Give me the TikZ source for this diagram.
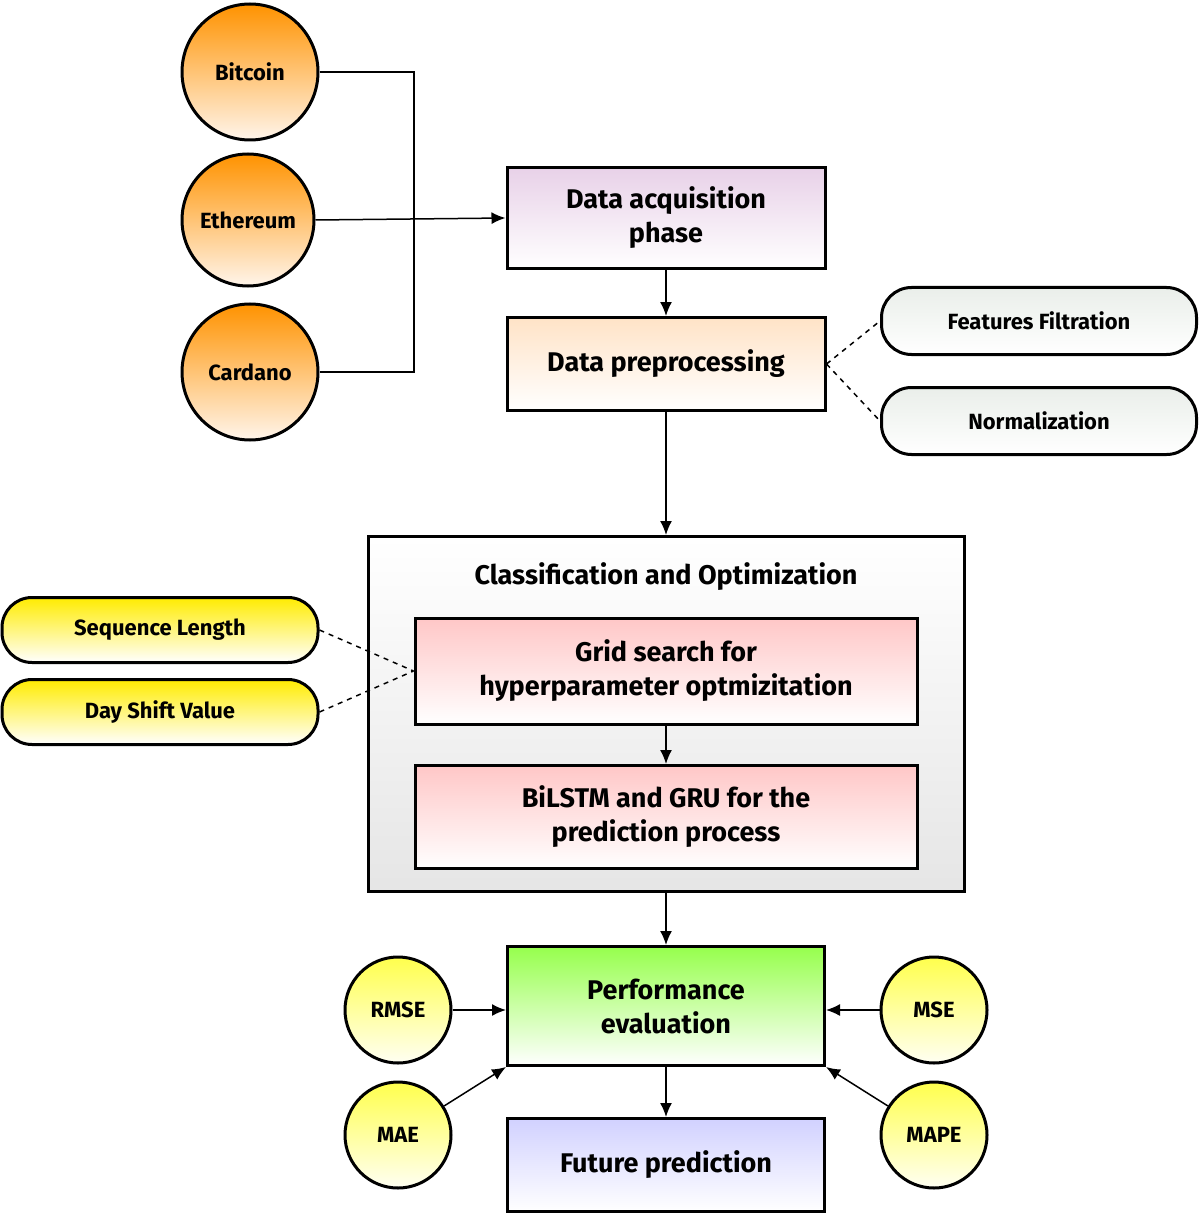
\documentclass[tikz,border=0pt]{standalone}
\usepackage{fontspec}
\setmainfont{Fira Sans}
\begin{document}
\begin{tikzpicture}[x=1pt,y=-1pt,
 base/.style={draw=black,line width=3pt,font=\fontsize{27}{34}\selectfont\bfseries,align=center,inner sep=0pt},
 box/.style={base,rectangle},
 pill/.style={base,rounded corners=30pt,font=\fontsize{22}{28}\selectfont\bfseries},
 coin/.style={base,circle,top color=orange!85!yellow,bottom color=orange!8,font=\fontsize{22}{28}\selectfont\bfseries},
 met/.style={base,circle,minimum size=106pt,top color=yellow!70,bottom color=yellow!5,font=\fontsize{22}{28}\selectfont\bfseries},
 arr/.style={line width=1.5pt,-{Latex[length=14pt,width=12pt]}},
 ln/.style={line width=1.5pt},
 dsh/.style={line width=1.5pt,dash pattern=on 5pt off 5pt}]
\useasboundingbox (0,0) rectangle (1200,1214);
\usetikzlibrary{arrows.meta}
\node[coin,minimum size=136pt] (btc) at (250,72) {Bitcoin};
\node[coin,minimum size=132pt] (eth) at (248,220) {Ethereum};
\node[coin,minimum size=136pt] (ada) at (250,372) {Cardano};
\node[box,minimum width=318pt,minimum height=101pt,top color=violet!18,bottom color=white] (acq) at (666,218) {Data acquisition\\phase};
\node[box,minimum width=318pt,minimum height=93pt,top color=orange!22,bottom color=white] (pre) at (666,364) {Data preprocessing};
\node[pill,minimum width=315pt,minimum height=67pt,top color=green!12!gray!15,bottom color=white] (ff) at (1039,321) {Features Filtration};
\node[pill,minimum width=315pt,minimum height=67pt,top color=green!12!gray!15,bottom color=white] (nz) at (1039,421) {Normalization};
\node[box,minimum width=596pt,minimum height=355pt,top color=white,bottom color=gray!20] (co) at (666,714) {};
\node[font=\fontsize{27}{34}\selectfont\bfseries] (cot) at (666,577) {Classification and Optimization};
\node[box,minimum width=502pt,minimum height=106pt,top color=red!22,bottom color=white] (gs) at (666,671) {Grid search for\\hyperparameter optmizitation};
\node[box,minimum width=502pt,minimum height=103pt,top color=red!22,bottom color=white] (bl) at (666,817) {BiLSTM and GRU for the\\prediction process};
\node[pill,minimum width=316pt,minimum height=65pt,top color=yellow!85!orange,bottom color=white] (sl) at (160,630) {Sequence Length};
\node[pill,minimum width=316pt,minimum height=65pt,top color=yellow!85!orange,bottom color=white] (ds) at (160,712) {Day Shift Value};
\node[box,minimum width=317pt,minimum height=119pt,top color=lime!55!green!70,bottom color=white] (pe) at (666,1006) {Performance\\evaluation};
\node[box,minimum width=317pt,minimum height=93pt,top color=blue!18,bottom color=white] (fp) at (666,1165) {Future prediction};
\node[met] (rmse) at (398,1010) {RMSE};
\node[met] (mae) at (398,1135) {MAE};
\node[met] (mse) at (934,1010) {MSE};
\node[met] (mape) at (934,1135) {MAPE};
\coordinate (j) at (414,220);
\draw[ln] (btc.east) -- (414,72) -- (414,372) -- (ada.east);
\draw[arr] (eth.east) -- (acq.west);
\draw[arr] (acq) -- (pre);
\draw[dsh] (pre.east) -- (ff.west);
\draw[dsh] (pre.east) -- (nz.west);
\draw[arr] (pre) -- (co.north);
\draw[arr] (gs) -- (bl);
\draw[dsh] (sl.east) -- (gs.west);
\draw[dsh] (ds.east) -- (gs.west);
\draw[arr] (co.south) -- (pe.north);
\draw[arr] (pe) -- (fp);
\draw[arr] (rmse.east) -- (pe.west |- rmse.east);
\draw[arr] (mse.west) -- (pe.east |- mse.west);
\draw[arr] (mae) -- (pe.south west);
\draw[arr] (mape) -- (pe.south east);
\end{tikzpicture}
\end{document}
